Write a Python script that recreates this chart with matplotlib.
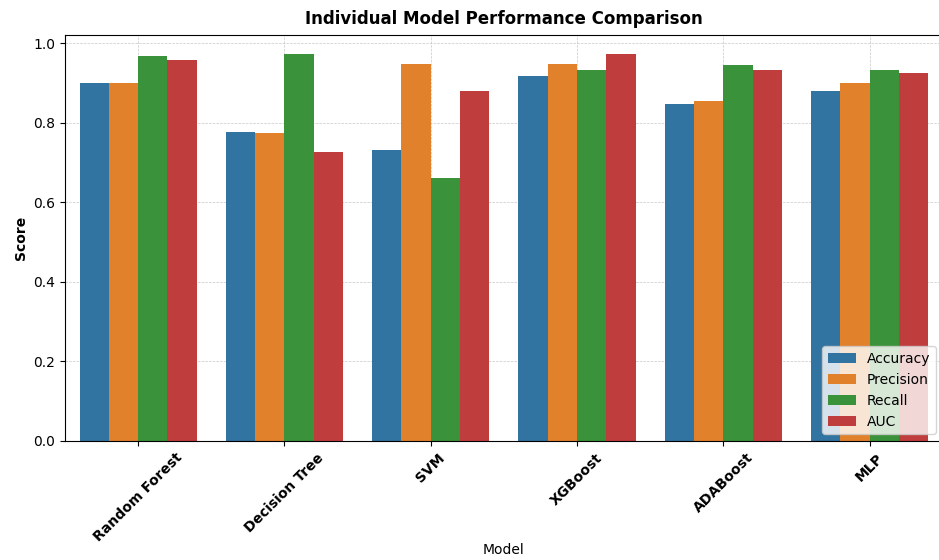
import matplotlib
matplotlib.use("Agg")
import matplotlib.pyplot as plt
import seaborn as sns
import pandas as pd

models = ["Random Forest", "Decision Tree", "SVM", "XGBoost", "ADABoost", "MLP"]
metrics = ["Accuracy", "Precision", "Recall", "AUC"]
accuracy = [0.900, 0.778, 0.732, 0.917, 0.847, 0.879]
precision = [0.900, 0.774, 0.948, 0.948, 0.855, 0.900]
recall = [0.967, 0.972, 0.661, 0.932, 0.946, 0.932]
auc = [0.959, 0.726, 0.881, 0.972, 0.932, 0.924]

rows = []
for name, vals in zip(metrics, [accuracy, precision, recall, auc]):
    for m, v in zip(models, vals):
        rows.append({"Model": m, "Metric": name, "Score": v})
df = pd.DataFrame(rows)

fig = plt.figure(figsize=(9.39, 5.6), dpi=100)
ax = fig.add_axes([0.0692, 0.2125, 1.004 - 0.0692, 0.9375 - 0.2125])
sns.barplot(data=df, x="Model", y="Score", hue="Metric", ax=ax, order=models, hue_order=metrics)
ax.set_xlim(-0.5, 5.5)
ax.set_title("Individual Model Performance Comparison", fontsize=12, fontweight="bold", pad=8)
ax.set_ylabel("Score", fontsize=10, fontweight="bold")
ax.set_xlabel("Model", fontsize=10, labelpad=-1)
plt.setp(ax.get_xticklabels(), rotation=45, fontweight="bold", fontsize=10)
ax.grid(True, linestyle="--", linewidth=0.5, alpha=0.7)
ax.set_axisbelow(True)
ax.legend(loc="lower right", fontsize=10)
fig.savefig("out.png", dpi=100)
